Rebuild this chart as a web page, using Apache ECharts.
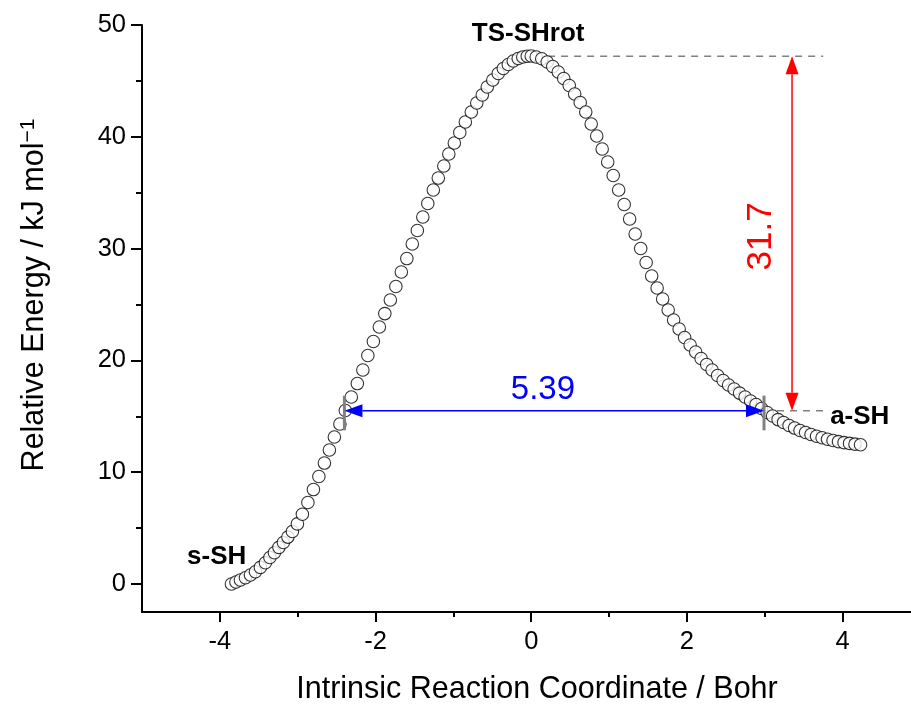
<!DOCTYPE html>
<html><head><meta charset="utf-8">
<script src="https://cdn.jsdelivr.net/npm/echarts@6/dist/echarts.min.js"></script>
<style>html,body{margin:0;padding:0;background:#fff}#c{width:911px;height:713px}</style>
</head><body><div id="c"></div>
<script>
// IRC points (Bohr) and relative energies (kJ/mol)
const ircCoord = [
-3.851,-3.793,-3.736,-3.671,-3.607,-3.543,-3.479,-3.415,-3.357,-3.299,
-3.241,-3.184,-3.126,-3.068,-3.004,-2.940,-2.869,-2.798,-2.728,-2.657,
-2.593,-2.529,-2.458,-2.388,-2.311,-2.234,-2.163,-2.099,-2.028,-1.951,
-1.881,-1.810,-1.739,-1.669,-1.598,-1.528,-1.463,-1.393,-1.329,-1.258,
-1.194,-1.123,-1.059,-0.988,-0.918,-0.847,-0.770,-0.700,-0.629,-0.565,
-0.494,-0.424,-0.359,-0.295,-0.231,-0.167,-0.109,-0.051,0.000,
0.064,0.135,0.205,0.276,0.347,0.417,0.488,0.558,0.629,0.700,
0.770,0.841,0.911,0.982,1.053,1.123,1.194,1.264,1.335,1.406,
1.476,1.547,1.617,1.688,1.759,1.829,1.900,1.970,2.041,2.112,
2.182,2.253,2.323,2.394,2.465,2.535,2.606,2.676,2.747,2.818,
2.888,2.959,3.030,3.100,3.171,3.241,3.312,3.383,3.453,3.524,
3.594,3.665,3.736,3.806,3.877,3.947,4.018,4.089,4.159,4.230
];
const energy = [
0.00,0.18,0.36,0.56,0.81,1.10,1.49,1.91,2.37,2.80,
3.28,3.71,4.20,4.70,5.38,6.24,7.29,8.45,9.62,10.82,
11.99,13.15,14.31,15.52,16.73,17.93,19.14,20.44,21.69,22.99,
24.19,25.40,26.61,27.91,29.11,30.41,31.62,32.83,34.03,35.24,
36.31,37.39,38.46,39.45,40.38,41.32,42.22,43.02,43.74,44.45,
45.08,45.66,46.11,46.47,46.78,47.00,47.14,47.21,47.23,
47.14,46.98,46.69,46.29,45.80,45.21,44.59,43.83,43.07,42.22,
41.14,40.07,38.91,37.75,36.54,35.24,33.94,32.65,31.31,30.01,
28.76,27.55,26.48,25.49,24.51,23.61,22.81,22.05,21.38,20.75,
20.17,19.63,19.14,18.65,18.20,17.80,17.44,17.08,16.73,16.37,
16.06,15.70,15.34,15.03,14.71,14.45,14.18,13.95,13.73,13.55,
13.37,13.22,13.08,12.95,12.84,12.74,12.65,12.58,12.51,12.46
];
const xMajorTicks = [-4, -2, 0, 2, 4];
const xMinorTicks = [-3, -1, 1, 3];
const yMajorTicks = [0, 10, 20, 30, 40, 50];
const yMinorTicks = [5, 15, 25, 35, 45];
const tsEnergy = 47.2;
const aSHEnergy = 15.5;
const barrierText = '31.7';
const distanceText = '5.39';
const distStart = -2.40;
const distEnd = 2.99;
const barrierX = 3.35;
const dashStartX = 0.05;
const dashEndX = 3.75;
const stateNames = ['TS-SHrot', 's-SH', 'a-SH'];
const stateAnchorX = [-0.04, -4.04, 4.22];
const stateAnchorY = [49.2, 2.4, 14.95];

const FONT = 'Liberation Sans, Arial, Helvetica, sans-serif';
const chart = echarts.init(document.getElementById('c'), null, {renderer: 'canvas'});

function mkXAxis(ticks, len, labels) {
  return {
    type: 'value', min: -5, max: 4.878, position: 'bottom',
    axisLine: {show: labels, onZero: false, lineStyle: {color: '#000', width: 2}},
    splitLine: {show: false},
    axisTick: {show: true, inside: false, length: len, customValues: ticks, lineStyle: {color: '#000', width: 2}},
    axisLabel: labels ? {show: true, customValues: ticks, fontSize: 25.5, color: '#000', fontFamily: FONT, margin: 17} : {show: false}
  };
}
function mkYAxis(ticks, len, labels) {
  return {
    type: 'value', min: -2.5, max: 50, position: 'left',
    axisLine: {show: labels, onZero: false, lineStyle: {color: '#000', width: 2}},
    splitLine: {show: false},
    axisTick: {show: true, inside: false, length: len, customValues: ticks, lineStyle: {color: '#000', width: 2}},
    axisLabel: labels ? {show: true, customValues: ticks, fontSize: 25.5, color: '#000', fontFamily: FONT, margin: 16} : {show: false}
  };
}

const arrows = [
  {x1: barrierX, y1: tsEnergy, x2: barrierX, y2: aSHEnergy, color: '#ff0000'},
  {x1: distStart, y1: aSHEnergy, x2: distEnd, y2: aSHEnergy, color: '#0000ff'}
];
const texts = [
  {text: stateNames[0], x: stateAnchorX[0], y: stateAnchorY[0], color: '#000', size: 26, weight: 'bold', rot: 0},
  {text: stateNames[1], x: stateAnchorX[1], y: stateAnchorY[1], color: '#000', size: 26, weight: 'bold', rot: 0},
  {text: stateNames[2], x: stateAnchorX[2], y: stateAnchorY[2], color: '#000', size: 26, weight: 'bold', rot: 0},
  {text: distanceText, x: 0.15, y: 17.35, color: '#0000ff', size: 33, weight: 'normal', rot: 0},
  {text: barrierText, x: 2.96, y: 31.1, color: '#ff0000', size: 35, weight: 'normal', rot: Math.PI / 2}
];

const option = {
  animation: false,
  backgroundColor: '#fff',
  grid: {left: 142, right: 0, top: 25, bottom: 101, containLabel: false},
  xAxis: [mkXAxis(xMajorTicks, 10, true), mkXAxis(xMinorTicks, 5, false)],
  yAxis: [mkYAxis(yMajorTicks, 11, true), mkYAxis(yMinorTicks, 6, false)],
  graphic: [
    {type: 'text', x: 537, y: 690, style: {text: 'Intrinsic Reaction Coordinate / Bohr', fill: '#000', fontSize: 30.5, fontFamily: FONT, align: 'center', verticalAlign: 'middle'}},
    {type: 'text', x: 35, y: 295, rotation: Math.PI / 2, style: {text: 'Relative Energy / kJ mol{s|\u22121}', fill: '#000', fontSize: 30.5, fontFamily: FONT, align: 'center', verticalAlign: 'middle', rich: {s: {fontSize: 21, fontFamily: FONT, fill: '#000', verticalAlign: 'top', padding: [0, 0, 14, 0]}}}}
  ],
  series: [
    {
      type: 'line', xAxisIndex: 0, yAxisIndex: 0, symbol: 'none', silent: true, z: 1,
      data: [[dashStartX, tsEnergy], [dashEndX, tsEnergy]],
      lineStyle: {color: '#808080', width: 1.5, type: [7, 6]}
    },
    {
      type: 'line', xAxisIndex: 0, yAxisIndex: 0, symbol: 'none', silent: true, z: 1,
      data: [[distEnd, aSHEnergy], [dashEndX, aSHEnergy]],
      lineStyle: {color: '#808080', width: 1.5, type: [7, 6]}
    },
    {
      type: 'scatter', xAxisIndex: 0, yAxisIndex: 0, z: 3,
      data: ircCoord.map((x, i) => [x, energy[i]]),
      symbol: 'circle', symbolSize: 12.5,
      itemStyle: {color: '#fff', borderColor: '#000', borderWidth: 1.1}
    },
    {
      type: 'custom', xAxisIndex: 0, yAxisIndex: 0, z: 4, silent: true,
      data: [[distStart, aSHEnergy], [distEnd, aSHEnergy]],
      renderItem: function (params, api) {
        const top = api.coord([api.value(0), aSHEnergy + 1.35]);
        const bot = api.coord([api.value(0), aSHEnergy - 1.75]);
        return {type: 'line', shape: {x1: top[0], y1: top[1], x2: bot[0], y2: bot[1]}, style: {stroke: '#808080', lineWidth: 3}};
      }
    },
    {
      type: 'custom', xAxisIndex: 0, yAxisIndex: 0, z: 5, silent: true,
      data: arrows.map(a => [a.x1, a.y1, a.x2, a.y2]),
      encode: {x: [0, 2], y: [1, 3]},
      renderItem: function (params, api) {
        const a = arrows[params.dataIndex];
        const p1 = api.coord([a.x1, a.y1]);
        const p2 = api.coord([a.x2, a.y2]);
        const dx = p2[0] - p1[0], dy = p2[1] - p1[1];
        const L = Math.sqrt(dx * dx + dy * dy);
        const ux = dx / L, uy = dy / L, nx = -uy, ny = ux;
        const hl = 18, hw = 6.5;
        const b1 = [p1[0] + ux * hl, p1[1] + uy * hl];
        const b2 = [p2[0] - ux * hl, p2[1] - uy * hl];
        return {type: 'group', children: [
          {type: 'line', shape: {x1: b1[0], y1: b1[1], x2: b2[0], y2: b2[1]}, style: {stroke: a.color, lineWidth: 1.5}},
          {type: 'polygon', shape: {points: [p1, [b1[0] + nx * hw, b1[1] + ny * hw], [b1[0] - nx * hw, b1[1] - ny * hw]]}, style: {fill: a.color}},
          {type: 'polygon', shape: {points: [p2, [b2[0] + nx * hw, b2[1] + ny * hw], [b2[0] - nx * hw, b2[1] - ny * hw]]}, style: {fill: a.color}}
        ]};
      }
    },
    {
      type: 'custom', xAxisIndex: 0, yAxisIndex: 0, z: 6, silent: true,
      data: texts.map(t => [t.x, t.y]),
      renderItem: function (params, api) {
        const t = texts[params.dataIndex];
        const p = api.coord([t.x, t.y]);
        return {type: 'text', x: p[0], y: p[1], rotation: t.rot,
          style: {text: t.text, fill: t.color, fontSize: t.size, fontWeight: t.weight, fontFamily: FONT, align: 'center', verticalAlign: 'middle'}};
      }
    }
  ]
};
chart.setOption(option);
</script>
</body></html>
